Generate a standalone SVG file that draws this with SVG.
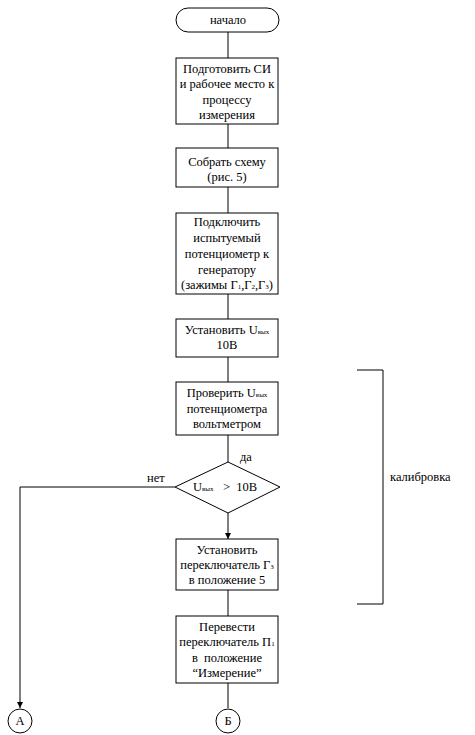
<svg xmlns="http://www.w3.org/2000/svg" width="475" height="735" viewBox="0 0 475 735">
<style>
.b{fill:#fff;stroke:#000;stroke-width:1}
.l{fill:none;stroke:#000;stroke-width:1}
text{font-family:"Liberation Serif","Times New Roman",serif;font-size:12.5px;fill:#000}
.c{text-anchor:middle}
.s{font-size:7px}
</style>
<defs>
<marker id="ar" markerWidth="8" markerHeight="8" refX="6" refY="3" orient="auto" markerUnits="userSpaceOnUse">
<path d="M0,0 L6,3 L0,6 Z" fill="#000"/>
</marker>
</defs>
<rect width="475" height="735" fill="#fff"/>
<g id="connectors">
<line class="l" x1="228" y1="32" x2="228" y2="58"/>
<line class="l" x1="228" y1="124" x2="228" y2="148"/>
<line class="l" x1="228" y1="187" x2="228" y2="213"/>
<line class="l" x1="228" y1="294" x2="228" y2="319"/>
<line class="l" x1="228" y1="357" x2="228" y2="382"/>
<line class="l" x1="228" y1="435" x2="228" y2="462"/>
<line class="l" x1="228" y1="513" x2="228" y2="539" marker-end="url(#ar)"/>
<polyline class="l" points="175,487 20,487 20,708" marker-end="url(#ar)"/>
<line class="l" x1="228" y1="590" x2="228" y2="616"/>
<line class="l" x1="228" y1="683" x2="228" y2="708"/>
<text x="240" y="461">да</text>
<text x="147" y="482">нет</text>
</g>
<g id="start">
<rect class="b" x="176" y="8" width="103" height="24" rx="12"/>
<text class="c" x="228" y="24">начало</text>
</g>
<g id="n1">
<rect class="b" x="176" y="58" width="102" height="66"/>
<text class="c" x="227" y="73">Подготовить СИ</text>
<text class="c" x="227" y="88">и рабочее место к</text>
<text class="c" x="227" y="104">процессу</text>
<text class="c" x="227" y="119">измерения</text>
</g>
<g id="n2">
<rect class="b" x="176" y="148" width="102" height="39"/>
<text class="c" x="227" y="166">Собрать схему</text>
<text class="c" x="227" y="181">(рис. 5)</text>
</g>
<g id="n3">
<rect class="b" x="176" y="213" width="102" height="81"/>
<text class="c" x="227" y="226">Подключить</text>
<text class="c" x="227" y="242">испытуемый</text>
<text class="c" x="227" y="258">потенциометр к</text>
<text class="c" x="227" y="274">генератору</text>
<text class="c" x="227" y="289">(зажимы Г<tspan class="s">1</tspan>,Г<tspan class="s">2</tspan>,Г<tspan class="s">3</tspan>)</text>
</g>
<g id="n4">
<rect class="b" x="176" y="319" width="102" height="38"/>
<text class="c" x="227" y="334">Установить U<tspan class="s">вых</tspan></text>
<text class="c" x="227" y="349">10В</text>
</g>
<g id="n5">
<rect class="b" x="176" y="382" width="102" height="53"/>
<text class="c" x="227" y="397">Проверить U<tspan class="s">вых</tspan></text>
<text class="c" x="227" y="413">потенциометра</text>
<text class="c" x="227" y="428">вольтметром</text>
</g>
<g id="d1">
<polygon class="b" points="228,462 280,487 228,513 175,487"/>
<text x="193" y="491">U<tspan class="s">вых</tspan>&#160;&#160;&#160;&gt;&#160;&#160;10В</text>
</g>
<g id="n6">
<rect class="b" x="176" y="539" width="102" height="51"/>
<text class="c" x="227" y="554">Установить</text>
<text class="c" x="227" y="569">переключатель Г<tspan class="s">3</tspan></text>
<text class="c" x="227" y="584">в положение 5</text>
</g>
<g id="n7">
<rect class="b" x="176" y="616" width="102" height="67"/>
<text class="c" x="227" y="631">Перевести</text>
<text class="c" x="227" y="646">переключатель П<tspan class="s">1</tspan></text>
<text class="c" x="227" y="662">в&#160;&#160;положение</text>
<text class="c" x="227" y="677">“Измерение”</text>
</g>
<g id="cA">
<circle class="b" cx="20" cy="721" r="12"/>
<text class="c" x="20" y="725">А</text>
</g>
<g id="cB">
<circle class="b" cx="228" cy="721" r="12"/>
<text class="c" x="228" y="725">Б</text>
</g>
<g id="bracket">
<polyline class="l" points="357,370 383,370 383,604 357,604"/>
<text x="390" y="481">калибровка</text>
</g>
</svg>
